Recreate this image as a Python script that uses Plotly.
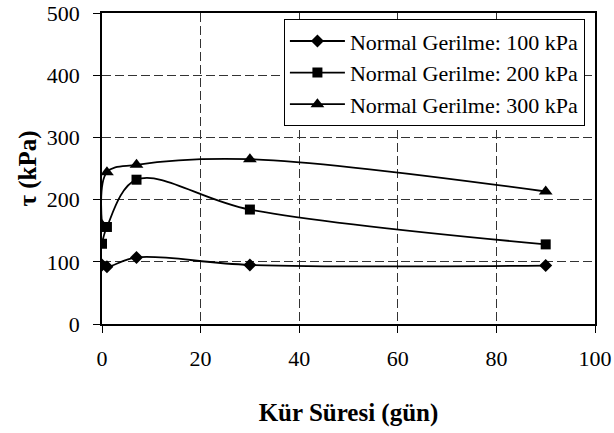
import plotly.graph_objects as go

days = [0, 1, 7, 30, 90]
tau_100 = [95, 92, 107, 95, 94]
tau_200 = [129, 156, 232, 184, 128]
tau_300 = [159, 244, 256, 265, 213]

series_names = ["Normal Gerilme: 100 kPa", "Normal Gerilme: 200 kPa", "Normal Gerilme: 300 kPa"]
x_title = "Kür Süresi (gün)"
y_title = "τ (kPa)"

FONT = '"Liberation Serif", "Times New Roman", Times, serif'

fig = go.Figure()
symbols = ["diamond", "square", "triangle-up"]
sizes = [10, 10, 12]
for name, vals, sym, sz in zip(series_names, [tau_100, tau_200, tau_300], symbols, sizes):
    fig.add_trace(go.Scatter(
        x=days, y=vals, name=name, mode="lines+markers",
        line=dict(color="black", width=1.8, shape="spline", smoothing=1),
        marker=dict(symbol=sym, size=sz, color="black"),
    ))

axis_common = dict(
    showline=True, linecolor="black", linewidth=1.5, mirror=True,
    ticks="outside", ticklen=7, tickcolor="black", tickwidth=1,
    zeroline=False, automargin=False,
    showgrid=True, gridcolor="#333333", gridwidth=1, griddash="9px,4px",
    tickfont=dict(family=FONT, size=22, color="black"),
)

fig.update_xaxes(range=[0, 100], dtick=20, tick0=0, ticklabelstandoff=7,
                 title=dict(text="<b>" + x_title + "</b>", font=dict(family=FONT, size=25, color="black"), standoff=33),
                 **axis_common)
fig.update_yaxes(range=[0, 500], dtick=100, tick0=0, ticklabelstandoff=9,
                 title=dict(text="<b>" + y_title + "</b>", font=dict(family=FONT, size=25, color="black"), standoff=3),
                 **axis_common)

fig.update_layout(
    width=614, height=433,
    margin=dict(l=102, r=19, t=13, b=109),
    plot_bgcolor="white", paper_bgcolor="white",
    showlegend=True,
    legend=dict(
        x=0.369, y=0.98, xanchor="left", yanchor="top",
        bgcolor="white", bordercolor="black", borderwidth=1,
        font=dict(family=FONT, size=22, color="black"),
        itemwidth=55,
    ),
)

fig.write_html("out.html", config={"displayModeBar": False},
               post_script="document.body.style.margin='0';document.body.style.padding='0';")
